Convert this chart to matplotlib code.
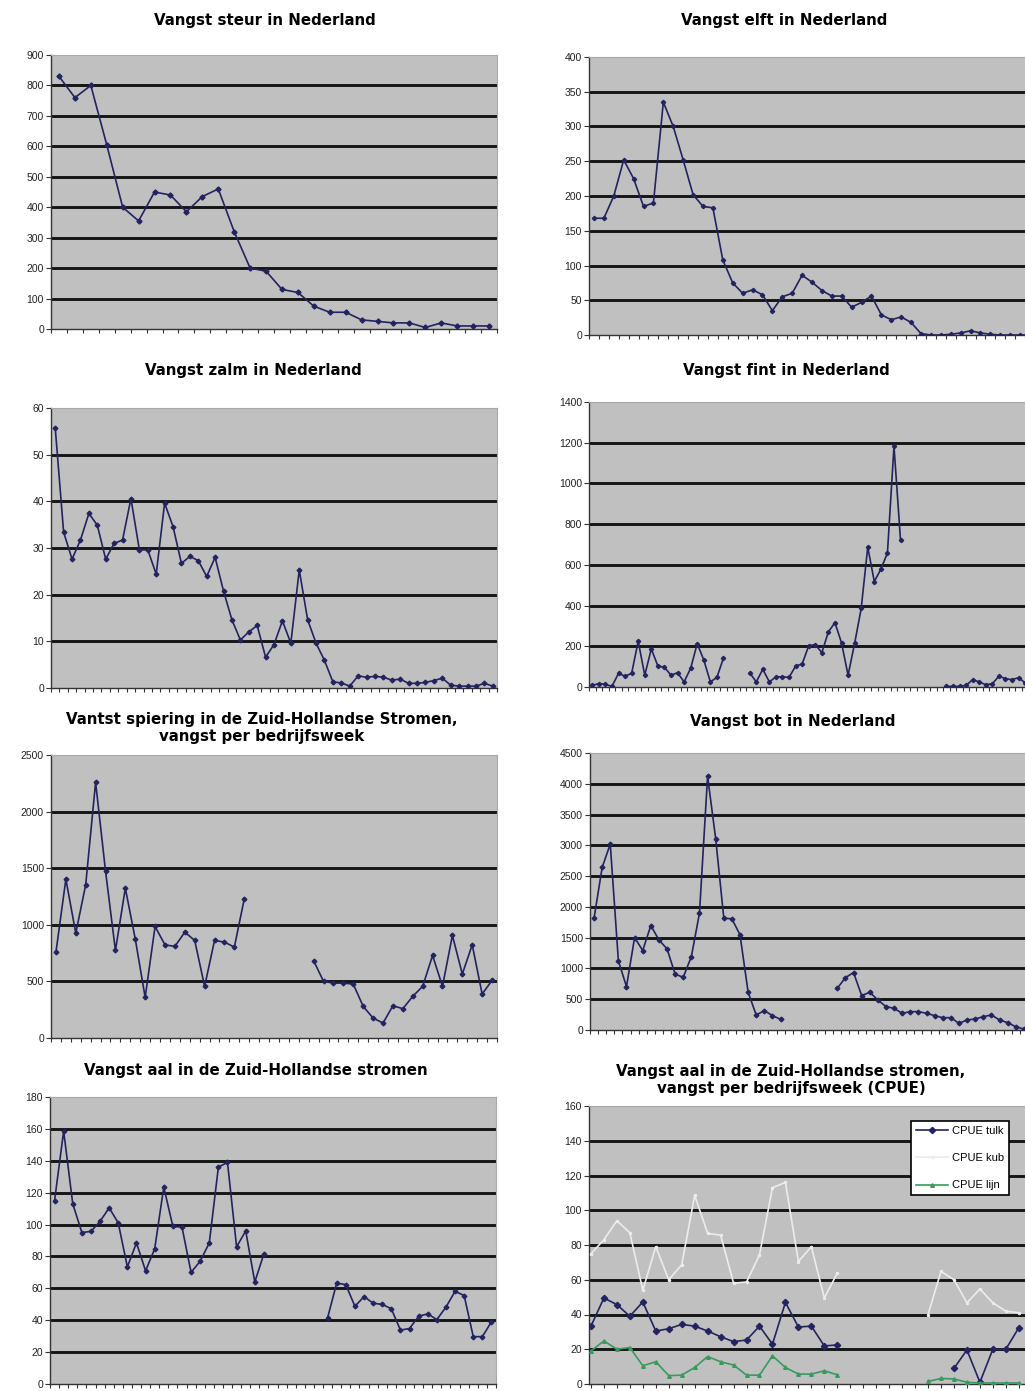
import numpy as np
import matplotlib
matplotlib.use('Agg')
import matplotlib.pyplot as plt

W, H = 1025, 1391
nan = np.nan

# Vangst steur in Nederland
steur = [830, 760, 800, 605, 400, 355, 450, 440, 385, 435, 460, 320, 200, 190,
         130, 120, 75, 55, 55, 30, 25, 20, 20, 5, 20, 10, 10, 10]

# Vangst elft in Nederland
elft = [168, 168, 200, 252, 225, 185, 190, 335, 300, 252, 202, 185, 183, 108,
        75, 60, 65, 58, 35, 55, 60, 86, 76, 64, 56, 56, 40, 47, 56, 29, 22, 26,
        18, 2, 0, 0, 1, 3, 6, 3, 1, 0, 0, 0, 0]

# Vangst zalm in Nederland
zalm = [55.8, 33.4, 27.6, 31.7, 37.4, 34.9, 27.6, 31, 31.7, 40.6, 29.6, 29.6,
        24.4, 39.6, 34.6, 26.7, 28.2, 27.3, 23.9, 28, 20.8, 14.6, 10.3, 12,
        13.4, 6.6, 9.3, 14.4, 9.6, 25.3, 14.6, 9.6, 5.9, 1.3, 1.1, 0.4, 2.6,
        2.3, 2.5, 2.3, 1.7, 1.9, 1, 1, 1.2, 1.6, 2.1, 0.6, 0.4, 0.4, 0.4, 1, 0.4]

# Vangst fint in Nederland
fint = [8, 17, 13, 3, 67, 53, 67, 225, 58, 187, 103, 97, 58, 70, 25, 92, 213,
        133, 25, 47, 142, nan, nan, nan,
        70, 25, 87, 25, 50, 50, 47, 103, 113, 203, 208, 169, 271, 316, 217, 58,
        214, 386, 687, 518, 579, 658, 1183, 720,
        nan, nan, nan, nan, nan, nan,
        3, 3, 3, 8, 36, 25, 11, 16, 53, 41, 36, 46, 20, 10]

# Vangst spiering, vangst per bedrijfsweek
spiering = [759, 1403, 926, 1353, 2259, 1476, 773, 1323, 876, 359, 985, 823,
            809, 935, 862, 456, 862, 847, 803, 1229,
            nan, nan, nan, nan, nan, nan,
            682, 500, 485, 485, 476, 279, 176, 132, 285, 259, 368, 456, 729,
            456, 906, 565, 823, 388, 509]

# Vangst bot in Nederland
bot = [1817, 2641, 3021, 1123, 705, 1502, 1291, 1697, 1464, 1318, 906, 857,
       1193, 1898, 4121, 3107, 1817, 1806, 1546, 613, 244, 315, 233, 174,
       nan, nan, nan, nan, nan, nan,
       678, 851, 933, 559, 613, 488, 380, 352, 271, 298, 298, 271, 233, 200,
       200, 108, 163, 179, 217, 244, 163, 119, 54, 16, 5]

# Vangst aal in de Zuid-Hollandse stromen
aal = [115, 158.6, 113, 95, 95.7, 102, 110.5, 101, 73.4, 88.5, 71, 84.7,
       123.5, 98.8, 98.4, 70, 77, 88.5, 136, 139, 86, 96, 64, 81.6,
       nan, nan, nan, nan, nan, nan,
       41.6, 63.3, 62.3, 48.7, 54.8, 50.7, 49.9, 47.2, 33.8, 34.8, 42.5, 44,
       40.4, 48.2, 58.1, 55.5, 29.7, 29.7, 39]

# CPUE aal
cpue_tulk = [33.3, 49.5, 45.7, 39, 47.2, 30.5, 31.8, 34.3, 33.3, 30.5, 27.2,
             24.4, 25.3, 33.3, 22.9, 47, 32.8, 33.3, 21.9, 22.5,
             nan, nan, nan, nan, nan, nan, nan, nan,
             9, 19.6, 1, 20, 20, 32.4]
cpue_kub = [75, 83, 94, 87, 54, 79, 60, 68.6, 108.6, 86.7, 85.7, 58, 58.7,
            74.3, 113, 116, 70.5, 79, 49.5, 63.8,
            nan, nan, nan, nan, nan, nan,
            40, 64.8, 60, 46.7, 54.7, 46.7, 41.9, 41]
cpue_lijn = [19, 24.8, 20, 21, 10.5, 12.8, 4.8, 5.1, 9.5, 15.8, 12.8, 10.9,
             5.1, 5.1, 16.2, 9.5, 5.7, 5.7, 7.6, 5.3,
             nan, nan, nan, nan, nan, nan,
             1.5, 3.2, 2.9, 1, 0.6, 0.6, 0.6, 0.6]
cpue_labels = ['CPUE tulk', 'CPUE kub', 'CPUE lijn']

plt.rcParams['font.family'] = ['Liberation Sans', 'DejaVu Sans']

fig = plt.figure(figsize=(W / 100, H / 100), dpi=100)
fig.patch.set_facecolor('white')

NAVY = '#23235f'


def px_axes(left, top, right, bottom):
    return fig.add_axes([left / W, 1 - bottom / H, (right - left) / W, (bottom - top) / H])


def style(ax, n, ymax, ystep, on_ticks=False):
    ax.set_facecolor('#c0c0c0')
    if on_ticks:
        ax.set_xlim(-0.15, n + 0.25)
        ax.set_xticks(np.arange(0, n + 1))
    else:
        ax.set_xlim(-0.5, n - 0.5)
        ax.set_xticks(np.arange(-0.5, n, 1.0))
    ax.set_ylim(0, ymax)
    yt = np.arange(0, ymax + ystep / 2, ystep)
    ax.set_yticks(yt)
    ax.set_yticklabels([f'{int(v)}' for v in yt])
    for v in yt[1:-1]:
        ax.axhline(v, color='#151515', lw=2.1, zorder=1)
    ax.tick_params(axis='x', direction='out', length=3, width=0.8, color='#333333',
                   labelbottom=False)
    ax.tick_params(axis='y', direction='out', length=3.5, width=0.8, color='#333333',
                   labelsize=7.5, pad=1.5, labelcolor='#222222')
    for s in ['left', 'bottom']:
        ax.spines[s].set_color('#333333')
        ax.spines[s].set_linewidth(1.0)
    for s in ['top', 'right']:
        ax.spines[s].set_color('#a8a8a8')
        ax.spines[s].set_linewidth(0.8)


def line(ax, vals, color=NAVY, ms=2.6, marker='D', label=None):
    x = np.arange(len(vals))
    return ax.plot(x, vals, color=color, lw=1.2, marker=marker, ms=ms, zorder=3,
                   label=label)[0]


def title(x, y, text):
    fig.text(x / W, 1 - y / H, text, ha='center', va='center', fontsize=10.8,
             fontweight='bold', family='DejaVu Sans', linespacing=1.15)


# row 1
ax = px_axes(51, 55, 497, 329)
style(ax, len(steur), 900, 100)
line(ax, steur)
title(265, 20, 'Vangst steur in Nederland')

ax = px_axes(589, 57, 1035, 335)
style(ax, len(elft), 400, 50)
line(ax, elft, ms=2.2)
title(784, 20, 'Vangst elft in Nederland')

# row 2
ax = px_axes(51, 408, 497, 688)
style(ax, len(zalm), 60, 10)
line(ax, zalm, ms=2.4)
title(253, 371, 'Vangst zalm in Nederland')

ax = px_axes(589, 402, 1035, 687)
style(ax, len(fint), 1400, 200)
line(ax, fint, ms=2.2)
title(786, 371, 'Vangst fint in Nederland')

# row 3
ax = px_axes(51, 755, 497, 1038)
style(ax, len(spiering), 2500, 500)
line(ax, spiering, ms=2.4)
title(262, 728, 'Vantst spiering in de Zuid-Hollandse Stromen,\nvangst per bedrijfsweek')

ax = px_axes(590, 753, 1036, 1030)
style(ax, len(bot), 4500, 500)
line(ax, bot, ms=2.4)
title(793, 722, 'Vangst bot in Nederland')

# row 4
ax = px_axes(50, 1097, 496, 1384)
style(ax, len(aal), 180, 20)
line(ax, aal, ms=2.4)
title(256, 1071, 'Vangst aal in de Zuid-Hollandse stromen')

ax = px_axes(589, 1106, 1035, 1384)
style(ax, len(cpue_tulk), 160, 20, on_ticks=True)
h1 = line(ax, cpue_tulk, ms=3.2, label=cpue_labels[0])
h2 = line(ax, cpue_kub, color='#ececec', marker='.', ms=3, label=cpue_labels[1])
h3 = line(ax, cpue_lijn, color='#3a9a5e', marker='^', ms=2.6, label=cpue_labels[2])
title(791, 1080, 'Vangst aal in de Zuid-Hollandse stromen,\nvangst per bedrijfsweek (CPUE)')
leg = ax.legend(handles=[h1, h2, h3], loc='upper left',
                bbox_to_anchor=(911 / W, 1 - 1121 / H), bbox_transform=fig.transFigure,
                fancybox=False, edgecolor='black', framealpha=1, facecolor='white',
                fontsize=8, handlelength=2.9, handletextpad=0.3, borderpad=0.45,
                labelspacing=1.55, borderaxespad=0)
leg.get_frame().set_linewidth(1.2)

fig.savefig('out.png', dpi=100)
